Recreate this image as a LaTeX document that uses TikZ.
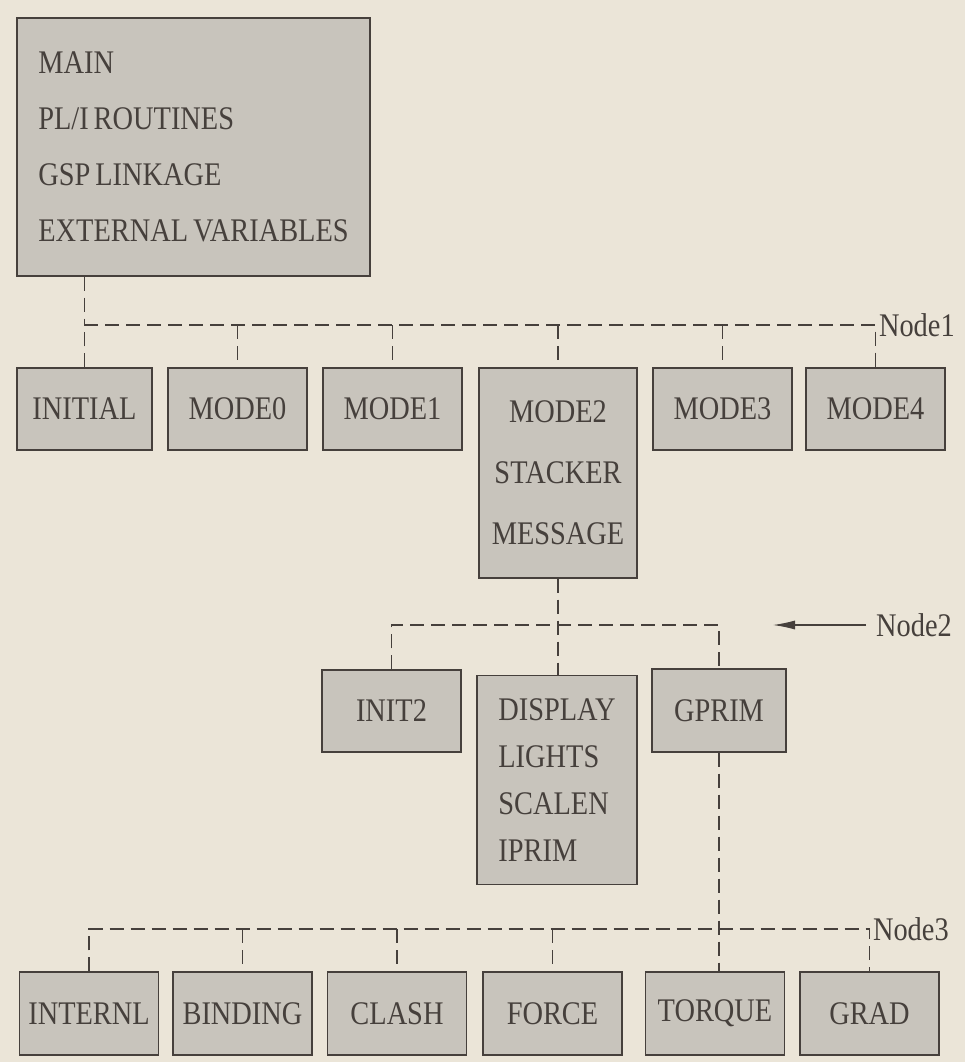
\documentclass[tikz,border=0pt]{standalone}
\usepackage{fontspec}
\setmainfont{Liberation Serif}[FakeStretch=0.86,WordSpace=0.7]
\usetikzlibrary{arrows.meta}
\definecolor{paper}{RGB}{235,229,216}
\definecolor{boxgray}{RGB}{200,196,188}
\definecolor{ink}{RGB}{70,64,60}
\tikzset{
  box/.style={draw=ink,fill=boxgray,line width=1.3pt,minimum height=82,inner sep=0pt,text=ink,font=\fontsize{33}{38}\selectfont},
  link/.style={draw=ink,line width=1.1pt,dash pattern=on 14pt off 7pt},
  lbl/.style={text=ink,font=\fontsize{33}{38}\selectfont,inner sep=3pt}
}
\begin{document}
\begin{tikzpicture}[x=1pt,y=-1pt]
        \fill[paper](0,0)rectangle(965,1062);
        \useasboundingbox(0,0)rectangle(965,1062);
        % top box
        \node[box,minimum width=353,minimum height=258,align=left,font=\fontsize{33}{56}\selectfont](main)at(193.5,147){MAIN\\PL/I ROUTINES\\GSP LINKAGE\\EXTERNAL VARIABLES};
        % first row
        \foreach \n/\x/\w/\t in {initial/84.5/135/INITIAL,mode0/237.5/139/MODE0,mode1/392.5/139/MODE1,mode3/722.5/139/MODE3,mode4/875.5/139/MODE4}
            \node[box,minimum width=\w](\n)at(\x,409){\t};
        \node[box,minimum width=158,minimum height=210,align=center,font=\fontsize{33}{61}\selectfont](mode2)at(558,473){MODE2\\STACKER\\MESSAGE};
        \coordinate(n1)at(0,325);
        \draw[link](main.south -| initial.north)--(initial.north |- n1);
        \draw[link](initial.north)|-(n1 -| mode4.north)node[lbl,right]{Node1}--(mode4.north);
        \foreach \n in {mode0,mode1,mode2,mode3} \draw[link](\n.north |- n1)--(\n.north);
        % second row
        \node[box,minimum width=139](init2)at(391.5,711){INIT2};
        \node[box,minimum width=160,minimum height=209,align=left,font=\fontsize{33}{47}\selectfont](display)at(557,780){DISPLAY\\LIGHTS\\SCALEN\\IPRIM};
        \node[box,minimum width=134,minimum height=83](gprim)at(719,710.5){GPRIM};
        \coordinate(n2)at(0,625);
        \draw[link](mode2.south)--(mode2.south |- display.north);
        \draw[link](init2.north)|-(n2 -| gprim.north)--(gprim.north);
        \node[lbl,anchor=west,inner xsep=10pt](node2)at(866,625){Node2};
        \coordinate(n2tip)at(773,625);
        \draw[-{Latex[length=22pt,width=9pt]},ink,line width=1.1pt](node2.west)--(n2tip);
        % third row
        \foreach \n/\x/\t in {internl/89/INTERNL,binding/242.5/BINDING,clash/397/CLASH,force/552.5/FORCE,torque/715/TORQUE,grad/869.5/GRAD}
            \node[box,minimum width=139,minimum height=83](\n)at(\x,1013.5){\t};
        \coordinate(n3)at(0,929);
        \draw[link](gprim.south)--(gprim.south |- torque.north);
        \draw[link](internl.north)|-(n3 -| grad.north)node[lbl,right]{Node3}--(grad.north);
        \foreach \n in {binding,clash,force} \draw[link](\n.north |- n3)--(\n.north);
    \end{tikzpicture}
\end{document}
